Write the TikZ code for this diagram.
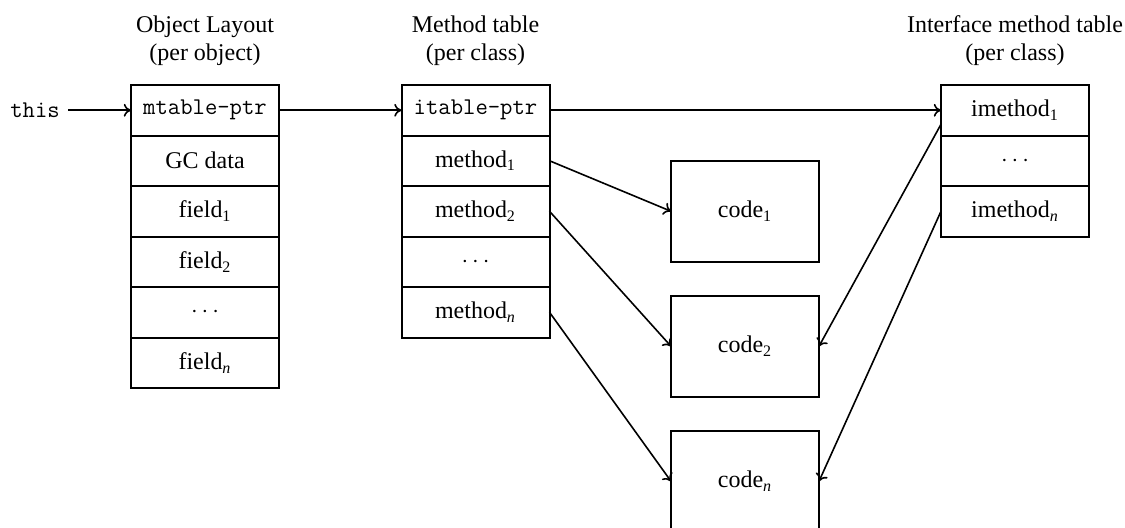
\documentclass[tikz,border=0pt]{standalone}
\usepackage{fontspec}
\setmainfont{Liberation Serif}
\usetikzlibrary{calc,arrows.meta}
\begin{document}
\begin{tikzpicture}[x=0.5pt,y=-0.5pt,
  cell/.style={draw,line width=1pt,minimum width=74pt,minimum height=25.25pt,
    inner sep=0pt,outer sep=0pt,font=\fontsize{12}{14}\selectfont},
  codebox/.style={cell,minimum height=50.5pt},
  title/.style={anchor=south,inner sep=0pt,align=center,font=\fontsize{12}{13.8}\selectfont},
  ptr/.style={-{To[length=3.6pt,width=6.4pt]},line width=0.8pt}]
\useasboundingbox (0,0) rectangle (1125,527);

% column titles
\node[title] (tol) at (205,66) {Object Layout\\(per object)};
\node[title] (tmt) at (475.5,66) {Method table\\(per class)};
\node[title] (tim) at (1015,66) {Interface method table\\(per class)};

% object layout
\node[cell] (ol1) at (205,110.25) {\ttfamily mtable-ptr};
\node[cell] (ol2) at (205,160.75) {GC data};
\node[cell] (ol3) at (205,211.25) {field\textsubscript{1}};
\node[cell] (ol4) at (205,261.75) {field\textsubscript{2}};
\node[cell] (ol5) at (205,312.25) {$\cdots$};
\node[cell] (ol6) at (205,362.75) {field\textsubscript{\textit{n}}};

% method table
\node[cell] (mt1) at (475.5,110.25) {\ttfamily itable-ptr};
\node[cell] (mt2) at (475.5,160.75) {method\textsubscript{1}};
\node[cell] (mt3) at (475.5,211.25) {method\textsubscript{2}};
\node[cell] (mt4) at (475.5,261.75) {$\cdots$};
\node[cell] (mt5) at (475.5,312.25) {method\textsubscript{\textit{n}}};

% interface method table
\node[cell] (im1) at (1015,110.25) {imethod\textsubscript{1}};
\node[cell] (im2) at (1015,160.75) {$\cdots$};
\node[cell] (im3) at (1015,211.25) {imethod\textsubscript{\textit{n}}};

% code blocks
\node[codebox] (c1) at (745,211.25) {code\textsubscript{1}};
\node[codebox] (c2) at (745,346.25) {code\textsubscript{2}};
\node[codebox] (cn) at (745,481.25) {code\textsubscript{\textit{n}}};

% this pointer
\node[inner sep=4pt,font=\fontsize{12}{14}\selectfont\ttfamily] (this) at (35,110.25) {this};

% pointers
\coordinate (im1low) at ($(im1.west)+(0,14)$);
\draw[ptr] (this) -- (ol1.west);
\draw[ptr] (ol1.east) -- (mt1.west);
\draw[ptr] (mt1.east) -- (im1.west);
\draw[ptr] (mt2.east) -- (c1.west);
\draw[ptr] (mt3.east) -- (c2.west);
\draw[ptr] (mt5.east) -- (cn.west);
\draw[ptr] (im1low) -- (c2.east);
\draw[ptr] (im3.west) -- (cn.east);
\end{tikzpicture}
\end{document}
